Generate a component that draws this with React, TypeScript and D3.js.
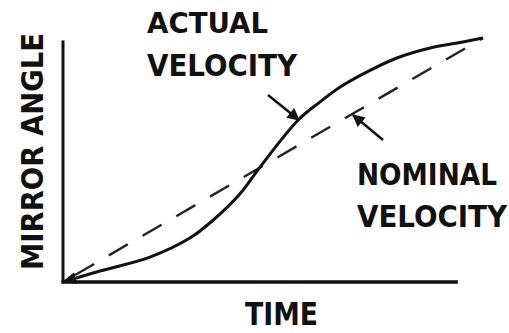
import React from "react";
import * as d3 from "d3";

const actualTime = [0, 0.88, 2.07, 3.02, 3.55, 4.21, 4.69, 5.6, 6.12, 6.6, 7.24, 7.95, 8.74, 9.52, 10];
const actualAngle = [0, 0.45, 1.02, 1.8, 2.5, 3.61, 4.71, 6.64, 7.38, 7.99, 8.61, 9.18, 9.59, 9.84, 10];
const nominalTime = [0, 10];
const nominalAngle = [0, 10];
const xAxisMax = 9.4;
const yAxisMax = 9.9;

const FONT = "'Liberation Sans Narrow', 'DejaVu Sans Condensed', 'Arial Narrow', sans-serif";

export default function App() {
  const W = 509, H = 333;
  const x = d3.scaleLinear().domain([0, 10]).range([63, 483]);
  const y = d3.scaleLinear().domain([0, 10]).range([282, 38]);

  const actual = actualTime.map((t, i) => [t, actualAngle[i]] as [number, number]);
  const nominal = nominalTime.map((t, i) => [t, nominalAngle[i]] as [number, number]);
  const line = d3.line<[number, number]>().x(d => x(d[0])).y(d => y(d[1])).curve(d3.curveCatmullRom.alpha(0.5));
  const straight = d3.line<[number, number]>().x(d => x(d[0])).y(d => y(d[1]));

  const textProps = { fontFamily: FONT, fontWeight: 700, fill: "#111" } as const;

  return (
    <svg width={W} height={H} style={{ position: "absolute", left: 0, top: 0, background: "#fff" }}>
      <defs>
        <marker id="tri" viewBox="0 0 10 10" refX="9" refY="5" markerWidth="5" markerHeight="5" orient="auto-start-reverse" markerUnits="strokeWidth">
          <path d="M0,1 L10,5 L0,9 z" fill="#111" />
        </marker>
        <marker id="ptr" viewBox="0 0 10 10" refX="9" refY="5" markerWidth="6" markerHeight="5" orient="auto" markerUnits="strokeWidth">
          <path d="M0,0 L10,5 L0,10 z" fill="#111" />
        </marker>
      </defs>
      {/* axes */}
      <line x1={x(0)} y1={y(yAxisMax)} x2={x(0)} y2={y(0) + 1.5} stroke="#111" strokeWidth={3} />
      <line x1={x(0) - 1.5} y1={y(0)} x2={x(xAxisMax)} y2={y(0)} stroke="#111" strokeWidth={3.5} />
      {/* nominal */}
      <path d={straight(nominal) || ""} fill="none" stroke="#222" strokeWidth={2.4} strokeDasharray="22 17" strokeDashoffset={-14} />
      {/* actual */}
      <path d={line(actual) || ""} fill="none" stroke="#111" strokeWidth={3} markerStart="url(#tri)" />
      {/* pointer arrows */}
      <line x1={268} y1={95} x2={299} y2={120} stroke="#111" strokeWidth={2.5} markerEnd="url(#ptr)" />
      <line x1={383} y1={140} x2={353} y2={115} stroke="#111" strokeWidth={2.5} markerEnd="url(#ptr)" />
      {/* labels */}
      <text x={147} y={33} fontSize={29} textLength={121} lengthAdjust="spacingAndGlyphs" {...textProps}>ACTUAL</text>
      <text x={147} y={76} fontSize={30} textLength={150} lengthAdjust="spacingAndGlyphs" {...textProps}>VELOCITY</text>
      <text x={357} y={185} fontSize={30} textLength={140} lengthAdjust="spacingAndGlyphs" {...textProps}>NOMINAL</text>
      <text x={357} y={227} fontSize={30} textLength={150} lengthAdjust="spacingAndGlyphs" {...textProps}>VELOCITY</text>
      <text x={245} y={325} fontSize={32} textLength={73} lengthAdjust="spacingAndGlyphs" {...textProps}>TIME</text>
      <text transform="translate(43,270) rotate(-90)" fontSize={31} textLength={237} lengthAdjust="spacingAndGlyphs" {...textProps}>MIRROR ANGLE</text>
    </svg>
  );
}
